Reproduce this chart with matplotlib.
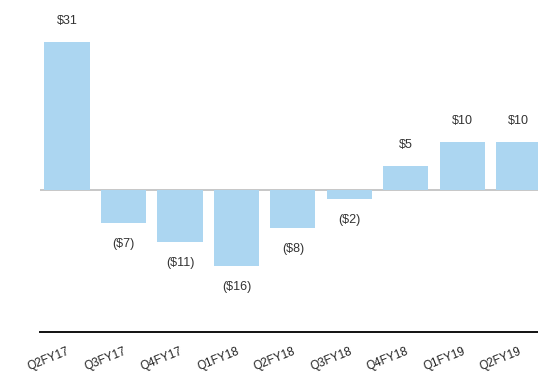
import numpy as np
import matplotlib
matplotlib.use("Agg")
from matplotlib import pyplot as plt

plt.rcParams["font.family"] = ["Liberation Sans", "DejaVu Sans"]

quarters = ["Q2FY17", "Q3FY17", "Q4FY17", "Q1FY18", "Q2FY18",
            "Q3FY18", "Q4FY18", "Q1FY19", "Q2FY19"]
values = [31, -7, -11, -16, -8, -2, 5, 10, 10]

def money(v):
    # negatives shown in parentheses, accounting style
    return "${}".format(v) if v >= 0 else "(${})".format(-v)

fig = plt.figure(figsize=(5.38, 3.74), dpi=100)
ax = fig.add_axes([40 / 538, 42 / 374, 1 - 40 / 538, 332 / 374])

x = np.arange(len(values))
ax.bar(x, values, width=0.8, color="#acd6f1", zorder=2)
ax.axhline(0, color="#bdbdbd", lw=1.2, zorder=1)

for xi, v in zip(x, values):
    off = 21 if v >= 0 else -21
    ax.annotate(money(v), (xi, v), xytext=(0, off), textcoords="offset pixels",
                ha="center", va="center", fontsize=9, color="#333333")

ax.set_xlim(-0.478, 8.34)
ax.set_ylim(-29.8, 39.8)

for s in ["top", "right", "left"]:
    ax.spines[s].set_visible(False)
ax.spines["bottom"].set_color("#111111")
ax.spines["bottom"].set_linewidth(1.4)

ax.set_yticks([])
ax.set_xticks(x)
ax.set_xticklabels(quarters, rotation=22, ha="right", rotation_mode="anchor",
                   fontsize=8.5, color="#222222")
ax.tick_params(axis="x", length=0, pad=10)

fig.savefig("out.png", dpi=100)
